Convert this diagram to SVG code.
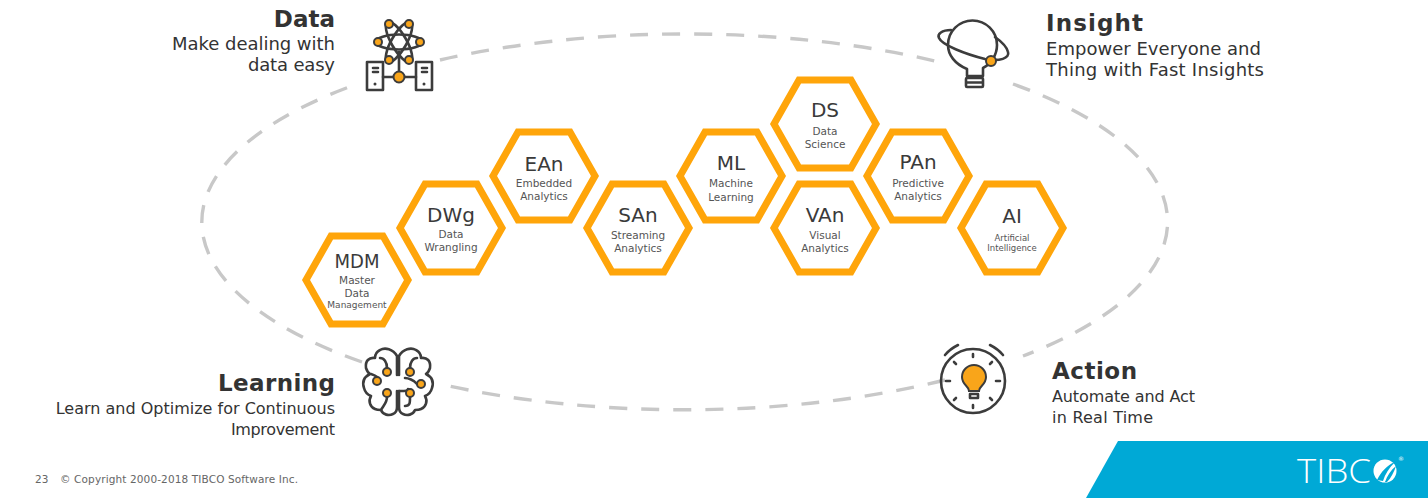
<svg xmlns="http://www.w3.org/2000/svg" width="1428" height="498" viewBox="0 0 1428 498">
<style>
text{font-family:"DejaVu Sans","Liberation Sans",sans-serif;fill:#333}
.h{font-weight:bold;font-size:23px}
.b{font-size:16px}
.b18{font-size:18px}
.hex{fill:#fff;stroke:#ffa50a;stroke-width:7}
.t{font-size:20px;text-anchor:middle;fill:#3a3a3a}
.s{font-size:10.5px;text-anchor:middle;fill:#555}
.r{text-anchor:end}
.ln{fill:none;stroke:#3c3c3c;stroke-width:2.6;stroke-linecap:round;stroke-linejoin:round}
.dot{fill:#f9a51a;stroke:#3c3c3c;stroke-width:2}
.arc{fill:none;stroke:#c8c8c8;stroke-width:3.4;stroke-dasharray:18 14}
</style>
<defs><polygon id="hx" points="-51,0 -26,-44 26,-44 51,0 26,44 -26,44"/></defs>
<rect width="1428" height="498" fill="#fff"/>
<g id="connectors">
<path class="arc" d="M440,60 A483,188 0 0 1 935,61"/>
<path class="arc" d="M1013,84 A483,188 0 0 1 1023,356"/>
<path class="arc" d="M945,380 A483,188 0 0 1 440,384"/>
<path class="arc" d="M362,362 A483,188 0 0 1 360,83"/>
</g>
<g id="mdm" transform="translate(357,280)"><use href="#hx" class="hex"/><text class="t" y="-12" textLength="45" lengthAdjust="spacingAndGlyphs">MDM</text><text class="s" y="4">Master</text><text class="s" y="17">Data</text><text class="s" y="28" style="font-size:9px">Management</text></g>
<g id="dwg" transform="translate(451,228)"><use href="#hx" class="hex"/><text class="t" y="-6">DWg</text><text class="s" y="10">Data</text><text class="s" y="23">Wrangling</text></g>
<g id="ean" transform="translate(544,176)"><use href="#hx" class="hex"/><text class="t" y="-5">EAn</text><text class="s" y="11">Embedded</text><text class="s" y="24">Analytics</text></g>
<g id="san" transform="translate(638,228)"><use href="#hx" class="hex"/><text class="t" y="-6">SAn</text><text class="s" y="11">Streaming</text><text class="s" y="24">Analytics</text></g>
<g id="ml" transform="translate(731,176)"><use href="#hx" class="hex"/><text class="t" y="-6">ML</text><text class="s" y="11">Machine</text><text class="s" y="25">Learning</text></g>
<g id="ds" transform="translate(825,124)"><use href="#hx" class="hex"/><text class="t" y="-7">DS</text><text class="s" y="11">Data</text><text class="s" y="24">Science</text></g>
<g id="van" transform="translate(825,228)"><use href="#hx" class="hex"/><text class="t" y="-6">VAn</text><text class="s" y="11">Visual</text><text class="s" y="24">Analytics</text></g>
<g id="pan" transform="translate(918,176)"><use href="#hx" class="hex"/><text class="t" y="-7">PAn</text><text class="s" y="11">Predictive</text><text class="s" y="24">Analytics</text></g>
<g id="ai" transform="translate(1012,228)"><use href="#hx" class="hex"/><text class="t" y="-5">AI</text><text class="s" y="13" style="font-size:8.5px">Artificial</text><text class="s" y="23" style="font-size:8.5px">Intelligence</text></g>

<g id="data">
<text class="h r" x="335" y="27">Data</text>
<text class="b18 r" x="335" y="50" textLength="163">Make dealing with</text>
<text class="b18 r" x="335" y="71" textLength="87">data easy</text>
<g class="ln">
<ellipse cx="399" cy="42" rx="23" ry="7.500"/>
<ellipse cx="399" cy="42" rx="23" ry="7.500" transform="rotate(60 399 42)"/>
<ellipse cx="399" cy="42" rx="23" ry="7.500" transform="rotate(120 399 42)"/>
<path d="M399,52V72M383,77H394M404,77H416"/>
<rect x="367" y="62" width="16" height="28"/>
<rect x="416" y="62" width="16" height="28"/>
<path d="M373,68H378M373,72H378M422,68H427M422,72H427"/>
</g>
<circle cx="375" cy="84" r="1.500" fill="#3c3c3c"/><circle cx="424" cy="84" r="1.500" fill="#3c3c3c"/>
<circle class="dot" cx="389" cy="24" r="4"/><circle class="dot" cx="409" cy="24" r="4"/>
<circle class="dot" cx="378" cy="42" r="4"/><circle class="dot" cx="420" cy="42" r="4"/>
<circle class="dot" cx="389" cy="60" r="4"/><circle class="dot" cx="409" cy="60" r="4"/>
<circle class="dot" cx="399" cy="77" r="5.500"/>
</g>

<g id="insight">
<text class="h" x="1046" y="31" textLength="97">Insight</text>
<text class="b18" x="1046" y="55" textLength="215">Empower Everyone and</text>
<text class="b18" x="1046" y="76" textLength="218">Thing with Fast Insights</text>
<g class="ln">
<path d="M951,30C942,30 937,34 939,38C942,45 965,54 985,59C1000,62 1010,58 1008,52C1007,47 1002,42 995,37"/>
<path d="M967,69C955,64 948,55 948,45A24.500,24.500 0 0 1 997,45C997,55 991,64 983,68L983,76H967L967,69"/>
<rect x="966" y="78" width="17" height="9" rx="1"/>
<path d="M967,82.500H982"/>
</g>
<circle class="dot" cx="991" cy="61" r="5"/>
</g>

<g id="learning">
<text class="h r" x="335" y="391" textLength="117">Learning</text>
<text class="b r" x="335" y="414">Learn and Optimize for Continuous</text>
<text class="b r" x="335" y="435" textLength="104">Improvement</text>
<g class="ln">
<path d="M397,375V356C393,349 385,347 380,350C376,352 375,355 375,358C369,357 365,361 366,368C367,371 368,373 370,374C364,377 362,382 364,388C365,392 368,395 371,396C368,401 370,407 375,409C377,410 380,410 381,410C383,415 389,416 393,414C396,413 397,410 397,407V391"/>
<path d="M399,375V356C403,349 411,347 416,350C420,352 421,355 421,358C427,357 431,361 430,368C429,371 428,373 426,374C432,377 434,382 432,388C431,392 428,395 425,396C428,401 426,407 421,409C419,410 416,410 415,410C413,415 407,416 403,414C400,413 399,410 399,407V391"/>
<path d="M387,368C387,362 384,358 380,358M410,368C410,362 413,358 417,358"/>
<path d="M371,374C374,375 376,376 377,377M399,391H404C407,391 408,390 408,389"/>
<path d="M387,397C387,403 383,406 381,410M410,397C410,403 410,406 405,406M417,384C414,380 408,378 405,378"/>
</g>
<circle class="dot" cx="387" cy="372" r="4"/><circle class="dot" cx="410" cy="372" r="4"/>
<circle class="dot" cx="377" cy="381" r="4"/><circle class="dot" cx="421" cy="384" r="4"/>
<circle class="dot" cx="387" cy="393" r="4"/><circle class="dot" cx="410" cy="393" r="4"/>
</g>

<g id="action">
<text class="h" x="1052" y="379" textLength="85">Action</text>
<text class="b" x="1052" y="402" textLength="143">Automate and Act</text>
<text class="b" x="1052" y="423" textLength="101">in Real Time</text>
<g class="ln">
<circle cx="973" cy="381" r="32"/>
<path d="M945,355Q950,349 958,345M990,345Q998,349 1003,355"/>
<path d="M973,354V357M973,405V408M946,381H950M996,381H1000M954,362L956,364M992,362L990,364M954,400L956,398M992,400L990,398"/>
<rect x="970" y="394" width="8" height="4"/>
</g>
<path class="dot" d="M969,391C969,386 962,385 962,377A12,12 0 0 1 986,377C986,385 979,386 979,391Z"/>
</g>

<g id="footer">
<text x="35" y="483" style="font-size:10.5px;fill:#666">23</text>
<text x="60" y="483" textLength="238" style="font-size:10.5px;fill:#666">© Copyright 2000-2018 TIBCO Software Inc.</text>
<polygon points="1118,441 1428,441 1428,498 1086,498" fill="#00a9d6"/>
<text x="1297" y="483" textLength="74" lengthAdjust="spacingAndGlyphs" style="font-family:'Open Sans',sans-serif;font-weight:300;font-size:33px;fill:#fff">TIBC</text>
<circle cx="1385" cy="471" r="11.500" fill="#fff"/>
<path d="M1377,480C1381,472 1387,465 1395,462C1389,468 1385,474 1383,481ZM1385,482C1387,476 1391,470 1396,466C1394,472 1391,478 1387,482Z" fill="#00a9d6"/>
<text x="1398" y="461" style="font-size:6px;fill:#fff">®</text>
</g>
</svg>
